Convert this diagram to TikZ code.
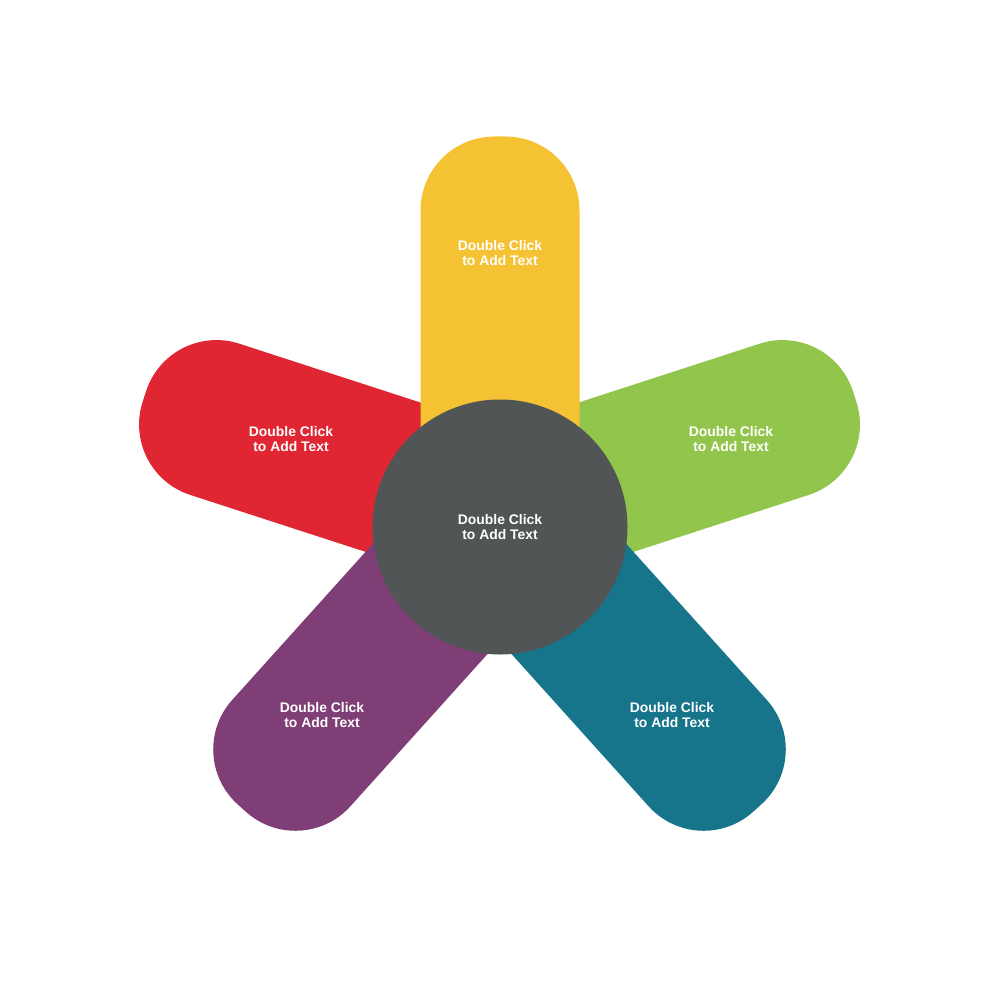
\documentclass[tikz,border=0pt]{standalone}
\usepackage{fontspec}
\setmainfont{Liberation Sans}
\usepackage{tikz}
\usetikzlibrary{positioning}
\definecolor{petalyellow}{RGB}{244,194,50}
\definecolor{petalgreen}{RGB}{146,197,75}
\definecolor{petalred}{RGB}{224,38,51}
\definecolor{petalpurple}{RGB}{128,62,118}
\definecolor{petalteal}{RGB}{22,117,139}
\definecolor{hubgray}{RGB}{81,85,86}

\begin{document}
\begin{tikzpicture}[x=0.5pt, y=-0.5pt,
	petal text/.style={text=white, align=center, inner sep=0pt,
		font=\bfseries\fontsize{6.95}{7.5}\selectfont}]

\def \xw{79.5}   % half width of a petal
\def \xl{320}    % length from cap centre to inner end
\def \xr{37pt}   % rounding of the outer end

\useasboundingbox (0,0) rectangle (1000,1000);

% petals: cap centre / angle / colour / text position
\foreach \px/\py/\pa/\pc/\tx/\ty [count=\i] in {
	220/421/162/petalred/291/439.5,
	779/421/18/petalgreen/731/439.5,
	295/749/228/petalpurple/322/715,
	704/749/312/petalteal/672/715,
	500/216/90/petalyellow/500/253.5} {
	\fill[\pc, rounded corners=\xr, shift={(\px,\py)}, rotate=\pa] (-\xl,-\xw) rectangle (\xw,\xw); % petal
	\node[petal text] (petal-\i) at (\tx,\ty) {Double Click\\to Add Text}; % petal label
}

% hub
\node[circle, fill=hubgray, minimum size=127.5pt, inner sep=0pt, petal text] (hub) at (500,527) {Double Click\\to Add Text};

\end{tikzpicture}
\end{document}
